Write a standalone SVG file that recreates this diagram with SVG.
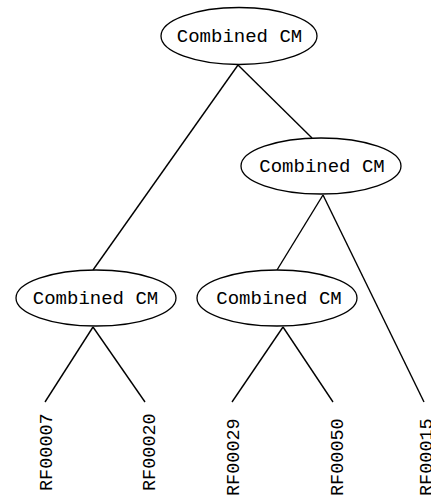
<svg xmlns="http://www.w3.org/2000/svg" width="431" height="497" viewBox="0 0 431 497">
<style>
.n ellipse{fill:#fff;stroke:#000;stroke-width:1.3}
.n text{font-family:"Liberation Mono",monospace;font-size:19px;text-anchor:middle;fill:#000}
.leaf text{font-family:"Liberation Mono",monospace;font-size:18.5px;fill:#000}
.e line{stroke:#000;stroke-width:1.4;fill:none}
</style>
<rect width="431" height="497" fill="#fff"/>
<g id="edges" class="e">
<line x1="238" y1="65" x2="93" y2="270"/>
<line x1="238" y1="65" x2="312" y2="138"/>
<line x1="323" y1="195" x2="277" y2="270"/>
<line x1="323" y1="195" x2="424" y2="402"/>
<line x1="93" y1="327" x2="45" y2="402"/>
<line x1="93" y1="327" x2="145" y2="402"/>
<line x1="283" y1="327" x2="232" y2="402"/>
<line x1="283" y1="327" x2="333" y2="402"/>
</g>
<g id="n1" class="n"><ellipse cx="239" cy="36" rx="78" ry="28.5"/><text x="239.5" y="41.5">Combined CM</text></g>
<g id="n2" class="n"><ellipse cx="321" cy="166" rx="80" ry="28"/><text x="322" y="171.5">Combined CM</text></g>
<g id="n3" class="n"><ellipse cx="96" cy="298" rx="80" ry="28"/><text x="95.5" y="303.5">Combined CM</text></g>
<g id="n4" class="n"><ellipse cx="277" cy="298" rx="80" ry="28"/><text x="279" y="303.5">Combined CM</text></g>
<g id="leaf1" class="leaf"><text transform="translate(52,491) rotate(-90)">RF00007</text></g>
<g id="leaf2" class="leaf"><text transform="translate(155,491) rotate(-90)">RF00020</text></g>
<g id="leaf3" class="leaf"><text transform="translate(239,496) rotate(-90)">RF00029</text></g>
<g id="leaf4" class="leaf"><text transform="translate(343,496) rotate(-90)">RF00050</text></g>
<g id="leaf5" class="leaf"><text transform="translate(432,496) rotate(-90)">RF00015</text></g>
</svg>
